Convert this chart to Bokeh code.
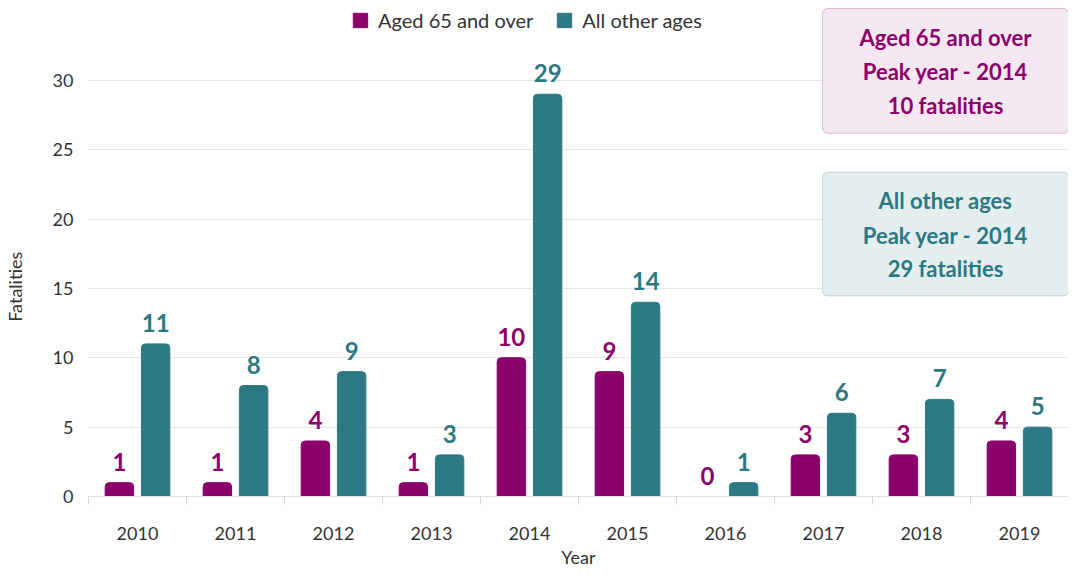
from bokeh.plotting import figure
from bokeh.models import (ColumnDataSource, FixedTicker, Range1d, Legend, LegendItem,
                          BoxAnnotation, Label)
from bokeh.core.properties import value
from bokeh.embed import file_html
from bokeh.resources import INLINE
import numpy as np

years = ["2010", "2011", "2012", "2013", "2014", "2015", "2016", "2017", "2018", "2019"]
aged_65_over = [1, 1, 4, 1, 10, 9, 0, 3, 3, 4]
all_other_ages = [11, 8, 9, 3, 29, 14, 1, 6, 7, 5]
series_names = ["Aged 65 and over", "All other ages"]
x_title = "Year"
y_title = "Fatalities"

PURPLE = "#8c006b"
TEAL = "#2c7984"
FONT = "Lato"
TXT = "#333333"

W, H = 1068, 570
LEFT, BOTTOM_SPACE = 88, 73
X0, X1 = -0.5, 9.5
Y0, Y1 = 0, 35.755
PX_X = (W - LEFT) / (X1 - X0)
PX_Y = (H - BOTTOM_SPACE) / (Y1 - Y0)

idx = np.arange(len(years))
src = ColumnDataSource(dict(
    x_a=idx - 0.185, x_b=idx + 0.185,
    a=aged_65_over, b=all_other_ages,
    a_lbl=[str(v) for v in aged_65_over], b_lbl=[str(v) for v in all_other_ages],
))

p = figure(width=W, height=H, output_backend="svg", toolbar_location=None,
           x_range=Range1d(X0, X1), y_range=Range1d(Y0, Y1),
           min_border_left=LEFT, min_border_right=0, min_border_top=0,
           min_border_bottom=BOTTOM_SPACE)
p.outline_line_color = None
p.background_fill_color = "white"

ra = p.vbar(x="x_a", top="a", width=0.29, source=src, fill_color=PURPLE,
            line_color=PURPLE, line_width=1, border_radius=(4, 4, 0, 0))
rb = p.vbar(x="x_b", top="b", width=0.29, source=src, fill_color=TEAL,
            line_color=TEAL, line_width=1, border_radius=(4, 4, 0, 0))

p.text(x="x_a", y="a", text="a_lbl", source=src, text_align="center", text_baseline="bottom",
       y_offset=-12, text_color=PURPLE, text_font=value(FONT), text_font_style="bold",
       text_font_size="24px")
p.text(x="x_b", y="b", text="b_lbl", source=src, text_align="center", text_baseline="bottom",
       y_offset=-12, text_color=TEAL, text_font=value(FONT), text_font_style="bold",
       text_font_size="24px")

# axes
p.xaxis.ticker = FixedTicker(ticks=list(idx), minor_ticks=list(idx - 0.5) + [9.5])
p.xaxis.major_label_overrides = {int(i): y for i, y in zip(idx, years)}
p.xaxis.major_tick_line_color = None
p.xaxis.major_tick_out = 0
p.xaxis.major_tick_in = 0
p.xaxis.minor_tick_line_color = "#d9d9d9"
p.xaxis.minor_tick_out = 8
p.xaxis.minor_tick_in = 0
p.xaxis.axis_line_color = "#e0e0e0"
p.xaxis.major_label_standoff = 22
p.xaxis.major_label_text_font = FONT
p.xaxis.major_label_text_font_size = "18px"
p.xaxis.major_label_text_color = TXT
p.xaxis.axis_label = x_title
p.xaxis.axis_label_text_font = FONT
p.xaxis.axis_label_text_font_style = "normal"
p.xaxis.axis_label_text_font_size = "18px"
p.xaxis.axis_label_text_color = TXT
p.xaxis.axis_label_standoff = 3

p.yaxis.ticker = FixedTicker(ticks=[0, 5, 10, 15, 20, 25, 30])
p.yaxis.axis_line_color = None
p.yaxis.major_tick_line_color = None
p.yaxis.minor_tick_line_color = None
p.yaxis.major_label_standoff = 9
p.yaxis.major_label_text_font = FONT
p.yaxis.major_label_text_font_size = "18px"
p.yaxis.major_label_text_color = TXT
# trailing em-spaces nudge the rotated title below the frame centre, as in the reference
p.yaxis.axis_label = y_title + "\u2003" * 5 + "\u2002"
p.yaxis.axis_label_text_font = FONT
p.yaxis.axis_label_text_font_style = "normal"
p.yaxis.axis_label_text_font_size = "18px"
p.yaxis.axis_label_text_color = TXT
p.yaxis.axis_label_standoff = 24

p.xgrid.grid_line_color = None
p.ygrid.grid_line_color = "#e6e6e6"
p.ygrid.grid_line_width = 1

legend = Legend(items=[LegendItem(label=series_names[0], renderers=[ra]),
                       LegendItem(label=series_names[1], renderers=[rb])],
                location=(263, 464), orientation="horizontal",
                label_text_font=FONT, label_text_font_size="20px", label_text_color=TXT,
                glyph_width=18, glyph_height=18, label_standoff=9, spacing=22,
                background_fill_alpha=0, border_line_alpha=0, padding=0, margin=0)
p.add_layout(legend, "center")

# helpers: canvas pixel -> data coordinate (for annotation placement)
def ypx(py):
    return (H - BOTTOM_SPACE - py) / PX_Y

def xpx(px):
    return (px - LEFT) / PX_X + X0

peak_a = int(np.argmax(aged_65_over))
peak_b = int(np.argmax(all_other_ages))
boxes = [
    (series_names[0], years[peak_a], aged_65_over[peak_a], PURPLE, "#f5e8f2", "#a8307f", 8, 133, [37, 71, 105]),
    (series_names[1], years[peak_b], all_other_ages[peak_b], TEAL, "#e4eeee", "#4a8d96", 172, 296, [200, 235, 269]),
]
for name, yr, val, col, fill, border, top, bot, rows in boxes:
    p.add_layout(BoxAnnotation(left=xpx(822), right=xpx(1068), top=ypx(top), bottom=ypx(bot),
                               fill_color=fill, fill_alpha=1, line_color=border, line_width=1,
                               border_radius=5))
    for txt, r in zip([name, f"Peak year - {yr}", f"{val} fatalities"], rows):
        p.add_layout(Label(x=xpx(945), y=ypx(r), text=txt, text_align="center",
                           text_baseline="middle", text_color=col, text_font=FONT,
                           text_font_style="bold", text_font_size="22px"))

open("out.html", "w").write(file_html(p, INLINE))
